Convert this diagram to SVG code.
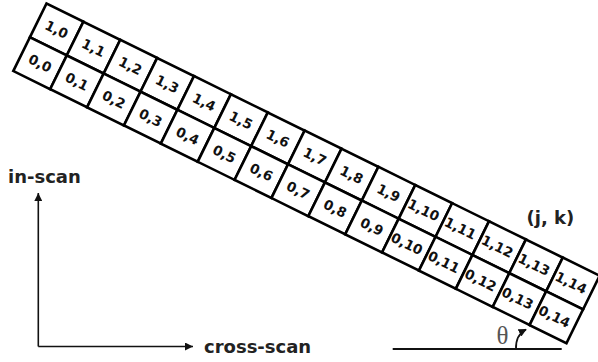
<svg xmlns="http://www.w3.org/2000/svg" width="598" height="362" viewBox="0 0 598 362">
<defs>
<style>
.cell{fill:#fff;stroke:#000;stroke-width:2.6}
.lbl{font-family:"DejaVu Sans",Verdana,sans-serif;font-weight:bold;font-size:13.5px;fill:#111;text-anchor:middle}
.big{font-family:"DejaVu Sans",Verdana,sans-serif;font-weight:bold;font-size:18px;fill:#222}
.ax{stroke:#111;stroke-width:1.6;fill:none}
</style>
<marker id="ah" viewBox="0 0 10 10" refX="10" refY="5" markerWidth="5" markerHeight="5" orient="auto" markerUnits="strokeWidth">
<path d="M0,0 L10,5 L0,10 z" fill="#111"/>
</marker>
<marker id="ah2" viewBox="0 0 10 10" refX="9" refY="5" markerWidth="4.5" markerHeight="4.5" orient="auto" markerUnits="strokeWidth">
<path d="M0,0 L10,5 L0,10 z" fill="#111"/>
</marker>
</defs>
<g id="strip" transform="translate(13.3,71) rotate(26.2)">
<g id="c1_0"><rect class="cell" x="0" y="-75.2" width="41.1" height="37.6"/><text class="lbl" x="20.55" y="-51.5">1,0</text></g>
<g id="c0_0"><rect class="cell" x="0" y="-37.6" width="41.1" height="37.6"/><text class="lbl" x="20.55" y="-13.9">0,0</text></g>
<g id="c1_1"><rect class="cell" x="41.1" y="-75.2" width="41.1" height="37.6"/><text class="lbl" x="61.65" y="-51.5">1,1</text></g>
<g id="c0_1"><rect class="cell" x="41.1" y="-37.6" width="41.1" height="37.6"/><text class="lbl" x="61.65" y="-13.9">0,1</text></g>
<g id="c1_2"><rect class="cell" x="82.2" y="-75.2" width="41.1" height="37.6"/><text class="lbl" x="102.75" y="-51.5">1,2</text></g>
<g id="c0_2"><rect class="cell" x="82.2" y="-37.6" width="41.1" height="37.6"/><text class="lbl" x="102.75" y="-13.9">0,2</text></g>
<g id="c1_3"><rect class="cell" x="123.3" y="-75.2" width="41.1" height="37.6"/><text class="lbl" x="143.85" y="-51.5">1,3</text></g>
<g id="c0_3"><rect class="cell" x="123.3" y="-37.6" width="41.1" height="37.6"/><text class="lbl" x="143.85" y="-13.9">0,3</text></g>
<g id="c1_4"><rect class="cell" x="164.4" y="-75.2" width="41.1" height="37.6"/><text class="lbl" x="184.95" y="-51.5">1,4</text></g>
<g id="c0_4"><rect class="cell" x="164.4" y="-37.6" width="41.1" height="37.6"/><text class="lbl" x="184.95" y="-13.9">0,4</text></g>
<g id="c1_5"><rect class="cell" x="205.5" y="-75.2" width="41.1" height="37.6"/><text class="lbl" x="226.05" y="-51.5">1,5</text></g>
<g id="c0_5"><rect class="cell" x="205.5" y="-37.6" width="41.1" height="37.6"/><text class="lbl" x="226.05" y="-13.9">0,5</text></g>
<g id="c1_6"><rect class="cell" x="246.6" y="-75.2" width="41.1" height="37.6"/><text class="lbl" x="267.15" y="-51.5">1,6</text></g>
<g id="c0_6"><rect class="cell" x="246.6" y="-37.6" width="41.1" height="37.6"/><text class="lbl" x="267.15" y="-13.9">0,6</text></g>
<g id="c1_7"><rect class="cell" x="287.7" y="-75.2" width="41.1" height="37.6"/><text class="lbl" x="308.25" y="-51.5">1,7</text></g>
<g id="c0_7"><rect class="cell" x="287.7" y="-37.6" width="41.1" height="37.6"/><text class="lbl" x="308.25" y="-13.9">0,7</text></g>
<g id="c1_8"><rect class="cell" x="328.8" y="-75.2" width="41.1" height="37.6"/><text class="lbl" x="349.35" y="-51.5">1,8</text></g>
<g id="c0_8"><rect class="cell" x="328.8" y="-37.6" width="41.1" height="37.6"/><text class="lbl" x="349.35" y="-13.9">0,8</text></g>
<g id="c1_9"><rect class="cell" x="369.9" y="-75.2" width="41.1" height="37.6"/><text class="lbl" x="390.45" y="-51.5">1,9</text></g>
<g id="c0_9"><rect class="cell" x="369.9" y="-37.6" width="41.1" height="37.6"/><text class="lbl" x="390.45" y="-13.9">0,9</text></g>
<g id="c1_10"><rect class="cell" x="411" y="-75.2" width="41.1" height="37.6"/><text class="lbl" x="429.5" y="-51.5">1,10</text></g>
<g id="c0_10"><rect class="cell" x="411" y="-37.6" width="41.1" height="37.6"/><text class="lbl" x="429.5" y="-13.9">0,10</text></g>
<g id="c1_11"><rect class="cell" x="452.1" y="-75.2" width="41.1" height="37.6"/><text class="lbl" x="470.6" y="-51.5">1,11</text></g>
<g id="c0_11"><rect class="cell" x="452.1" y="-37.6" width="41.1" height="37.6"/><text class="lbl" x="470.6" y="-13.9">0,11</text></g>
<g id="c1_12"><rect class="cell" x="493.2" y="-75.2" width="41.1" height="37.6"/><text class="lbl" x="511.7" y="-51.5">1,12</text></g>
<g id="c0_12"><rect class="cell" x="493.2" y="-37.6" width="41.1" height="37.6"/><text class="lbl" x="511.7" y="-13.9">0,12</text></g>
<g id="c1_13"><rect class="cell" x="534.3" y="-75.2" width="41.1" height="37.6"/><text class="lbl" x="552.8" y="-51.5">1,13</text></g>
<g id="c0_13"><rect class="cell" x="534.3" y="-37.6" width="41.1" height="37.6"/><text class="lbl" x="552.8" y="-13.9">0,13</text></g>
<g id="c1_14"><rect class="cell" x="575.4" y="-75.2" width="41.1" height="37.6"/><text class="lbl" x="593.9" y="-51.5">1,14</text></g>
<g id="c0_14"><rect class="cell" x="575.4" y="-37.6" width="41.1" height="37.6"/><text class="lbl" x="593.9" y="-13.9">0,14</text></g>
</g>
<g id="connectors">
<path class="ax" d="M38.3,346.5 V193" marker-end="url(#ah)"/>
<path class="ax" d="M38.3,346.5 H193" marker-end="url(#ah)"/>
<path d="M392.7,349 H561.7" stroke="#111" stroke-width="2" fill="none"/>
<path d="M516,349 Q515.5,335 526,329.5" stroke="#111" stroke-width="1.8" fill="none" marker-end="url(#ah2)"/>
</g>
<g id="labels">
<text class="big" x="8" y="183.3">in-scan</text>
<text class="big" x="204" y="352.7">cross-scan</text>
<text class="big" x="526.5" y="224">(j, k)</text>
<text x="496.5" y="344" font-family="Liberation Serif,serif" font-size="25" fill="#555">θ</text>
</g>
</svg>
